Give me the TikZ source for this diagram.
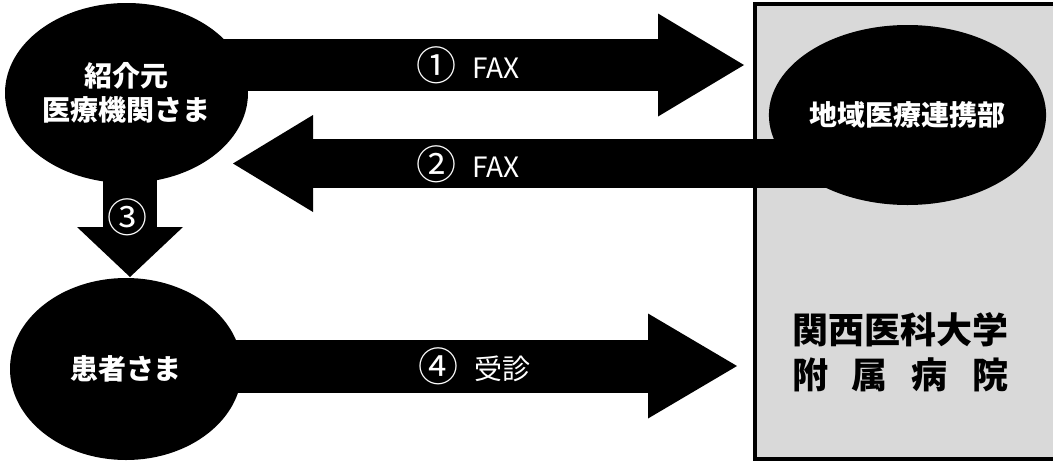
\documentclass[tikz,border=0pt]{standalone}
\usepackage{fontspec}
\newfontfamily\jp{Noto Sans CJK JP}
\usetikzlibrary{shapes.geometric,arrows.meta,backgrounds}
\definecolor{boxgray}{HTML}{D9D9D9}
\newcommand{\circnum}[1]{\makebox[56pt][l]{\raisebox{-2pt}{\fontsize{40}{40}\selectfont #1}}}
\tikzset{
  bubble/.style={ellipse, fill=black, inner sep=0pt, text=white, align=center,
    font=\jp\bfseries\fontsize{28}{34}\selectfont},
  fatarrow/.style n args={3}{line width=#1,
    -{Triangle[width=#2, length=#3, line width=0pt]}},
  steplabel/.style={text=white, inner sep=0pt, anchor=base west,
    font=\jp\fontsize{28}{30}\selectfont},
}

\begin{document}
\begin{tikzpicture}[x=1pt, y=-1pt]
\useasboundingbox (0,0) rectangle (1053,464);

% ===== Hospital box =====
\begin{scope}[on background layer]
    \node[draw, line width=4pt, fill=boxgray, anchor=north west, outer sep=0pt,
          inner sep=0pt, minimum width=330pt, minimum height=455pt] (hosp) at (755,4) {};
\end{scope}

% Hospital name
\node[font=\jp\bfseries\fontsize{36}{45}\selectfont, align=center, inner sep=0pt]
    (hospname) at (900,352) {関西医科大学\\\makebox[6em][s]{附\hfill 属\hfill 病\hfill 院}};

% ===== Ellipses =====
\node[bubble, minimum width=243pt, minimum height=180pt] (src) at (126.5,93) {紹介元\\医療機関さま};
\node[bubble, minimum width=239pt, minimum height=180pt] (ren) at (907.5,115) {\raisebox{-8pt}{地域医療連携部}};
\node[bubble, minimum width=232pt, minimum height=182pt] (pat) at (126,369) {患者さま};

% Arrow tips
\coordinate (t1) at (744,65);
\coordinate (t2) at (233,163.5);
\coordinate (t3) at (130,277);
\coordinate (t4) at (737,366);

% ===== Arrows =====
\begin{scope}[on background layer]
    \draw[fatarrow={52pt}{103pt}{86pt}] (src.center |- t1) -- (t1);
    \draw[fatarrow={49pt}{97pt}{80pt}] (ren.center |- t2) -- (t2);
    \draw[fatarrow={54pt}{106pt}{50pt}] (t3 |- src.center) -- (t3);
    \draw[fatarrow={53pt}{105pt}{89pt}] (pat.center |- t4) -- (t4);
\end{scope}

% ===== Labels =====
\node[steplabel] (lab1) at (416,78) {\circnum{①}FAX};
\node[steplabel] (lab2) at (416,177) {\circnum{②}FAX};
\node[steplabel] (lab3) at (107,230) {\circnum{③}};
\node[steplabel] (lab4) at (418,379) {\circnum{④}受診};

\end{tikzpicture}
\end{document}
